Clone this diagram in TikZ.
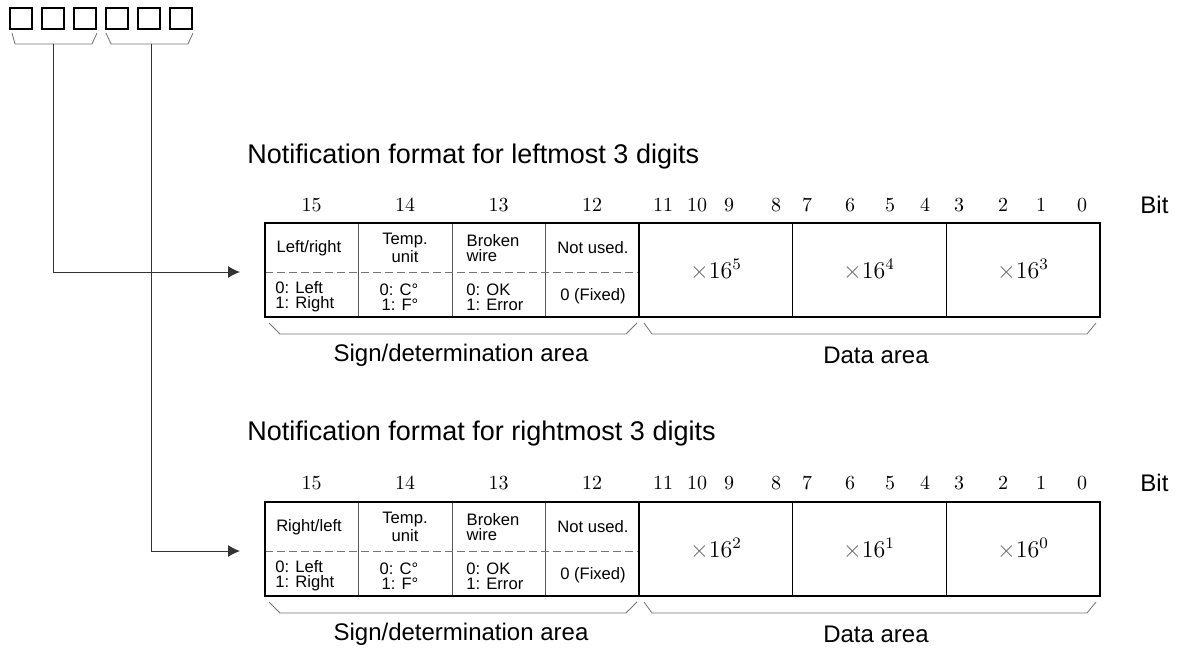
\documentclass[tikz,border=0pt]{standalone}
\usepackage{fontspec}
\setsansfont{Liberation Sans}
\usepackage{xcolor}
\usetikzlibrary{arrows.meta}

\tikzset{
  digitbox/.style={draw, line width=1pt, minimum width=10.8pt, minimum height=10.5pt, inner sep=0pt},
  frame/.style={line width=1pt},
  divider/.style={line width=0.5pt, black!65},
  datadiv/.style={line width=0.5pt},
  sep/.style={black!55, line width=0.5pt, dash pattern=on 4pt off 2pt},
  brace/.style={black!55, line width=0.4pt},
  feed/.style={line width=0.5pt, black!80, -{Latex[length=6pt,width=6pt]}},
  cell/.style={font=\sffamily\fontsize{8.3}{7.4}\selectfont, inner sep=0pt},
  bitno/.style={font=\fontsize{10}{12}\selectfont, inner sep=0pt},
  weight/.style={font=\fontsize{11.5}{13}\selectfont, inner sep=0pt},
  heading/.style={font=\sffamily\fontsize{13.5}{16}\selectfont, inner sep=0pt, anchor=west},
  caption/.style={font=\sffamily\fontsize{12}{14}\selectfont, inner sep=0pt},
}

\begin{document}
\begin{tikzpicture}[x=0.5pt, y=-0.5pt]
        \useasboundingbox (0,0) rectangle (1182,654);

        % six digits of the value
        \foreach \i in {0,...,5}
            \node[digitbox] (d\i) at (20.8+32*\i, 18.5) {};
        \draw[brace] (12,33) -- (15,44) -- (92,44) -- (97,33);
        \draw[brace] (106,33) -- (111,44) -- (188,44) -- (193,33);
        \coordinate (hiDigits) at (53,44);
        \coordinate (loDigits) at (151,44);
        \coordinate (inA) at (240,272);
        \coordinate (inB) at (240,551);
        \draw[feed] (hiDigits) |- (inA);
        \draw[feed] (loDigits) |- (inB);

        % leftmost 3 digits
        \node[heading] (titleA) at (247,157) {Notification format for leftmost 3 digits};
        \foreach \b/\x in {15/311.5,14/405,13/498.5,12/592,11/663,10/697,9/729,8/776,
                           7/807,6/850,5/890,4/925,3/959,2/1003,1/1041,0/1082}
            \node[bitno] (bitA\b) at (\x,205) {\b};
        \node[caption, anchor=west] (bitA) at (1140,205) {Bit};

        \draw[divider] (358,223) -- (358,317) (452,223) -- (452,317) (545,223) -- (545,317);
        \draw[datadiv] (792,223) -- (792,317) (946,223) -- (946,317);
        \draw[sep] (265,272) -- (639,272);
        \draw[frame] (265,223) rectangle (1100,317) (639,223) -- (639,317);

        \node[cell] (sideA) at (309,248) {Left/right};
        \node[cell, align=center] (unitA) at (405,248) {Temp.\\unit};
        \node[cell, align=left] (wireA) at (493,248) {Broken\\wire};
        \node[cell] (freeA) at (593,248) {Not used.};
        \node[cell, align=left, anchor=west] (sideValA) at (275,297) {0: Left\\1: Right};
        \node[cell, align=right] (unitValA) at (399,297) {0: C°\\1: F°};
        \node[cell, align=left, anchor=west] (wireValA) at (466,297) {0: OK\\1: Error};
        \node[cell] (freeValA) at (593,296) {0 (Fixed)};

        \node[weight] (w5) at (716,270) {$\textcolor{black!60}{\times}16^{5}$};
        \node[weight] (w4) at (869,270) {$\textcolor{black!60}{\times}16^{4}$};
        \node[weight] (w3) at (1023,270) {$\textcolor{black!60}{\times}16^{3}$};

        \draw[brace] (269,323) -- (280,334) -- (626,334) -- (637,323);
        \draw[brace] (644,323) -- (652,334) -- (1087,334) -- (1096,323);
        \node[caption] (signA) at (461,355) {Sign/determination area};
        \node[caption] (dataA) at (876,355) {Data area};

        % rightmost 3 digits
        \node[heading] (titleB) at (247,434) {Notification format for rightmost 3 digits};
        \foreach \b/\x in {15/311.5,14/405,13/498.5,12/592,11/663,10/697,9/729,8/776,
                           7/807,6/850,5/890,4/925,3/959,2/1003,1/1041,0/1082}
            \node[bitno] (bitB\b) at (\x,483) {\b};
        \node[caption, anchor=west] (bitB) at (1140,483) {Bit};

        \draw[divider] (358,502) -- (358,596) (452,502) -- (452,596) (545,502) -- (545,596);
        \draw[datadiv] (792,502) -- (792,596) (946,502) -- (946,596);
        \draw[sep] (265,551) -- (639,551);
        \draw[frame] (265,502) rectangle (1100,596) (639,502) -- (639,596);

        \node[cell] (sideB) at (309,527) {Right/left};
        \node[cell, align=center] (unitB) at (405,527) {Temp.\\unit};
        \node[cell, align=left] (wireB) at (493,527) {Broken\\wire};
        \node[cell] (freeB) at (593,527) {Not used.};
        \node[cell, align=left, anchor=west] (sideValB) at (275,576) {0: Left\\1: Right};
        \node[cell, align=right] (unitValB) at (399,576) {0: C°\\1: F°};
        \node[cell, align=left, anchor=west] (wireValB) at (466,576) {0: OK\\1: Error};
        \node[cell] (freeValB) at (593,575) {0 (Fixed)};

        \node[weight] (w2) at (716,549) {$\textcolor{black!60}{\times}16^{2}$};
        \node[weight] (w1) at (869,549) {$\textcolor{black!60}{\times}16^{1}$};
        \node[weight] (w0) at (1023,549) {$\textcolor{black!60}{\times}16^{0}$};

        \draw[brace] (269,602) -- (280,613) -- (626,613) -- (637,602);
        \draw[brace] (644,602) -- (652,613) -- (1087,613) -- (1096,602);
        \node[caption] (signB) at (461,634) {Sign/determination area};
        \node[caption] (dataB) at (876,634) {Data area};
\end{tikzpicture}
\end{document}
